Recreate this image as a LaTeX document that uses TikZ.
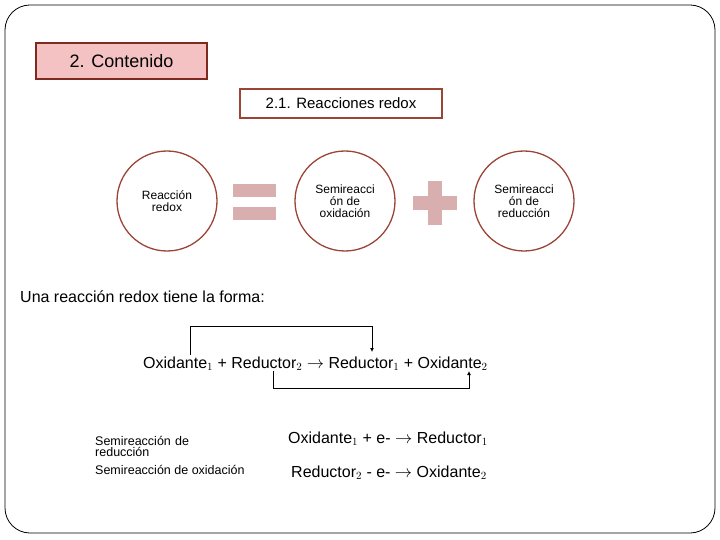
\documentclass[tikz,border=0pt]{standalone}
\usepackage{fontspec}
\setmainfont{Liberation Sans}
\usetikzlibrary{arrows.meta}
\definecolor{dred}{HTML}{7F2A1E}
\definecolor{cbrd}{HTML}{9A4535}
\definecolor{pinkf}{HTML}{F4C2C2}
\definecolor{symc}{HTML}{D8AEAE}
\begin{document}
\begin{tikzpicture}[x=1pt,y=-1pt,
  circ/.style={circle,draw=cbrd,line width=1.3pt,minimum size=100pt,inner sep=0pt,align=center,font=\fontsize{12}{12}\selectfont},
  sym/.style={fill=symc,draw=none},
  eq/.style={font=\fontsize{16}{18}\selectfont,anchor=base west,inner sep=0pt},
  small/.style={font=\fontsize{12.5}{12}\selectfont,anchor=base west,inner sep=0pt,align=left}]
\useasboundingbox (0,0) rectangle (720,540);
\draw[line width=0.8pt,rounded corners=25pt] (5,5) rectangle (715,533);
\node[draw=dred,fill=pinkf,line width=2.5pt,minimum width=171pt,minimum height=36pt,font=\fontsize{18}{20}\selectfont] (t1) at (121.5,61) {2. Contenido};
\node[draw=cbrd,fill=white,line width=1.3pt,minimum width=202pt,minimum height=29pt,font=\fontsize{15}{17}\selectfont] (t2) at (341,103.5) {2.1. Reacciones redox};
\node[circ] (c1) at (167,201) {Reacción\\redox};
\node[circ] (c2) at (345,201) {Semireacci\\ón de\\oxidación};
\node[circ] (c3) at (524,201) {Semireacci\\ón de\\reducción};
\fill[sym] (233,184) rectangle (276,197);
\fill[sym] (233,207) rectangle (276,220);
\fill[sym] (428,181) rectangle (442,225);
\fill[sym] (413,196) rectangle (457,210);
\node[font=\fontsize{16}{18}\selectfont,anchor=base west,inner sep=0pt] (intro) at (20,302) {Una reacción redox tiene la forma:};
\node[eq] (eqn) at (143,368) {Oxidante$_1$ + Reductor$_2$ $\rightarrow$ Reductor$_1$ + Oxidante$_2$};
\coordinate (a1) at (190,355);
\coordinate (a2) at (372,352);
\coordinate (b1) at (273,371);
\coordinate (b2) at (469,371);
\draw[line width=0.9pt,-{Latex[length=4pt,width=4pt]}] (a1) -- (190,326) -- (372,326) -- (a2);
\draw[line width=0.9pt,-{Latex[length=4pt,width=4pt]}] (b1) -- (273,388) -- (469,388) -- (b2);
\node[small,text width=120pt] (sr) at (95,445) {Semireacción de\\[-1pt]reducción};
\node[small] (so) at (95,474) {Semireacción de oxidación};
\node[eq] (r1) at (288,443) {Oxidante$_1$ + e- $\rightarrow$ Reductor$_1$};
\node[eq] (r2) at (291,477) {Reductor$_2$ - e- $\rightarrow$ Oxidante$_2$};
\end{tikzpicture}
\end{document}
